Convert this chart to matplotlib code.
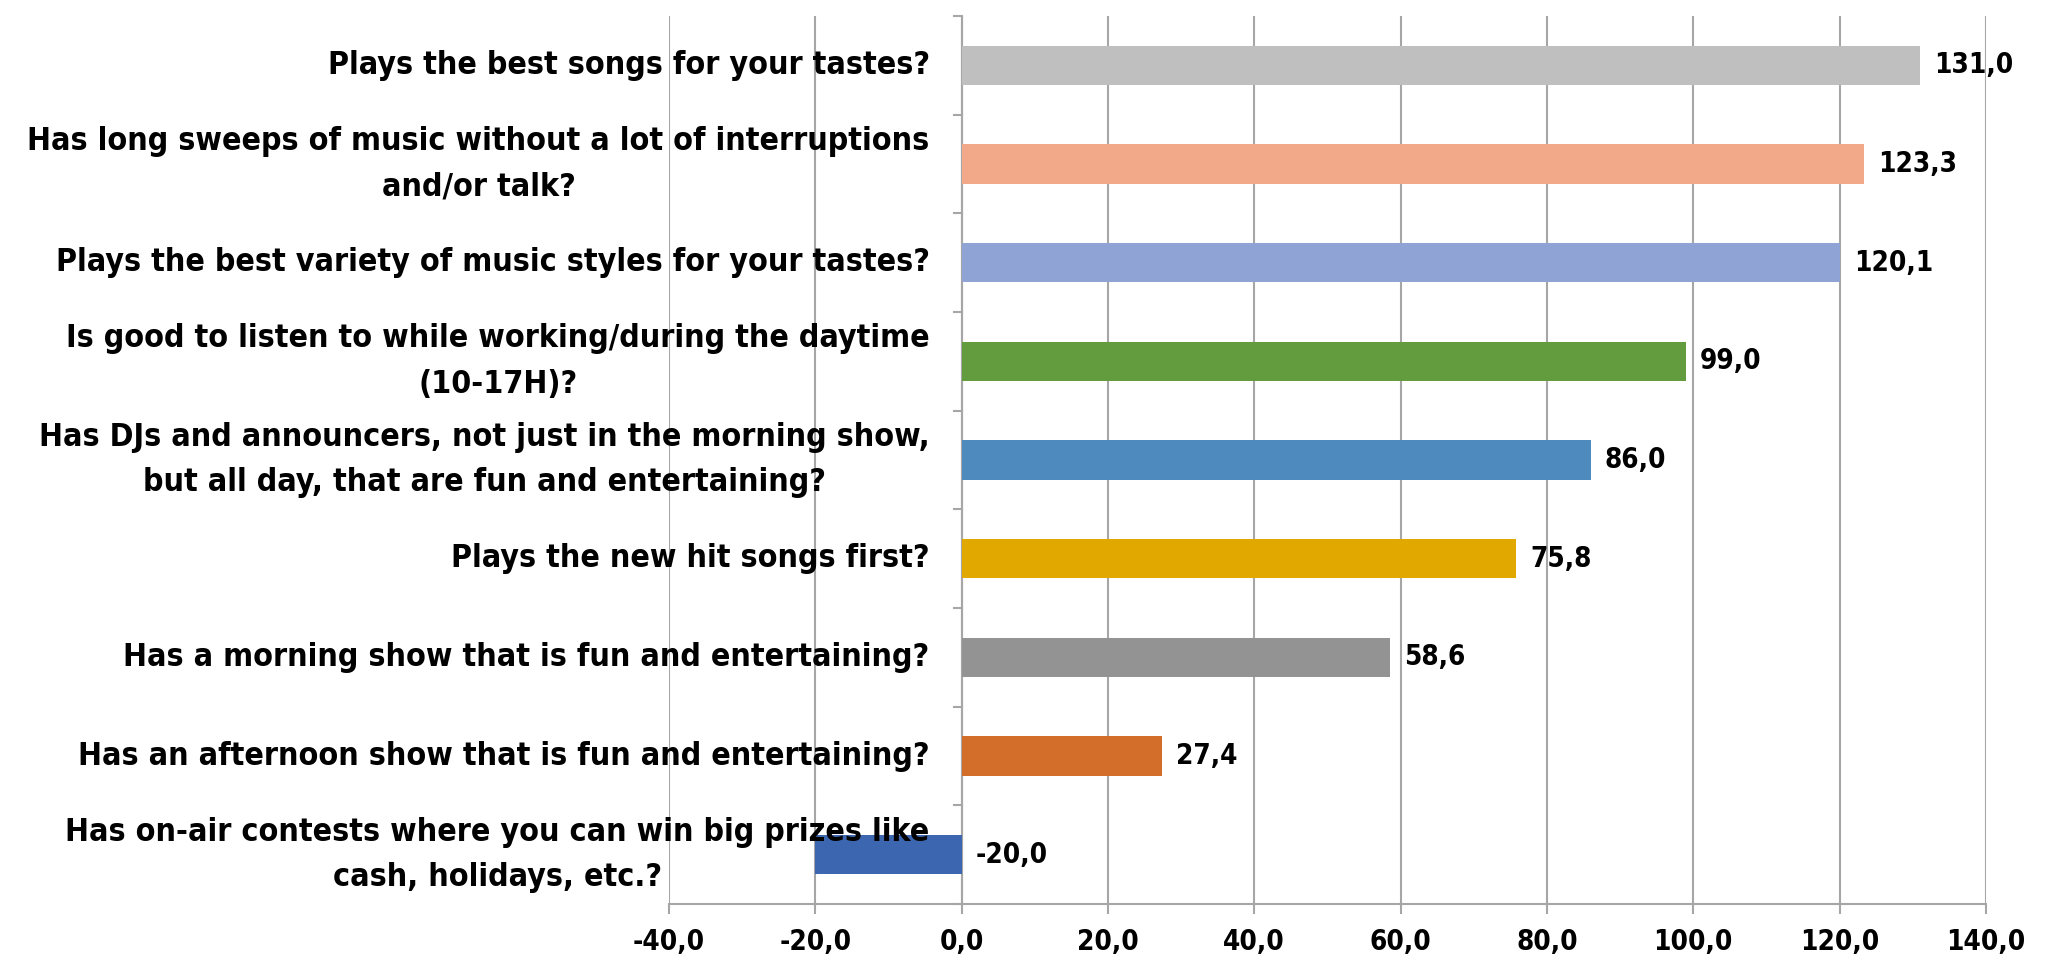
import matplotlib
matplotlib.use("Agg")
import matplotlib.pyplot as plt
from matplotlib import font_manager as fm

categories = [
    "Has on-air contests where you can win big prizes like\ncash, holidays, etc.?",
    "Has an afternoon show that is fun and entertaining?",
    "Has a morning show that is fun and entertaining?",
    "Plays the new hit songs first?",
    "Has DJs and announcers, not just in the morning show,\nbut all day, that are fun and entertaining?",
    "Is good to listen to while working/during the daytime\n(10-17H)?",
    "Plays the best variety of music styles for your tastes?",
    "Has long sweeps of music without a lot of interruptions\nand/or talk?",
    "Plays the best songs for your tastes?",
]
values = [-20.0, 27.4, 58.6, 75.8, 86.0, 99.0, 120.1, 123.3, 131.0]
bar_colors = ["#3D66B0", "#D36E2A", "#939393", "#E1A800", "#4F8ABE",
              "#629C3F", "#8FA4D4", "#F1A98A", "#BFBFBF"]
x_ticks = [-40, -20, 0, 20, 40, 60, 80, 100, 120, 140]


def pick_font():
    # prefer a narrow bold face; fall back to a regular bold sans
    cands = []
    for f in fm.fontManager.ttflist:
        n = (f.name + " " + f.fname).lower()
        if ("narrow" in n or "condensed" in n) and f.weight in ("bold", 700, "heavy") or \
           (("narrow" in n or "condensed" in n) and "bold" in f.fname.lower()):
            cands.append(f)
    cands.sort(key=lambda f: ("liberation" not in f.fname.lower(), f.fname))
    if cands:
        return fm.FontProperties(fname=cands[0].fname), True
    return fm.FontProperties(family="DejaVu Sans", weight="bold"), False


fp, narrow = pick_font()
label_size = 23 if narrow else 17
value_size = 20 if narrow else 15

fig = plt.figure(figsize=(20.49, 9.64), dpi=100)
ax = fig.add_axes([0.3265, 0.0622, 0.9692 - 0.3265, 0.9834 - 0.0622])

y = list(range(len(values)))
ax.barh(y, values, height=0.4, color=bar_colors, zorder=3)

ax.set_xlim(-40, 140)
ax.set_ylim(-0.5, len(values) - 0.5)
ax.set_xticks(x_ticks)
ax.set_xticklabels([f"{t:.1f}".replace(".", ",") for t in x_ticks])
for lbl in ax.get_xticklabels():
    lbl.set_fontproperties(fp)
    lbl.set_fontsize(value_size)
ax.tick_params(axis="x", length=7, width=1.5, color="#A6A6A6", pad=10)

ax.grid(axis="x", color="#A6A6A6", linewidth=1.5, zorder=0)
ax.set_yticks([])
for side in ("top", "right", "left"):
    ax.spines[side].set_visible(False)
ax.spines["bottom"].set_color("#A6A6A6")
ax.spines["bottom"].set_linewidth(1.5)

# category axis drawn at x = 0 with boundary ticks
ax.axvline(0, color="#A6A6A6", linewidth=1.5, zorder=2)
for b in range(len(values) + 1):
    ax.plot([-1.0, 0], [b - 0.5, b - 0.5], color="#A6A6A6", lw=1.5,
            zorder=2, clip_on=False)

# category labels to the left of the zero line
for yi, cat in zip(y, categories):
    ax.annotate(cat, xy=(0, yi), xycoords="data", xytext=(-32, 0),
                textcoords="offset pixels", ha="right", va="center",
                multialignment="center", fontproperties=fp,
                fontsize=label_size, color="black", linespacing=1.6,
                zorder=4)

# value labels
for yi, v in zip(y, values):
    ax.annotate(f"{v:.1f}".replace(".", ","), xy=(max(v, 0), yi),
                xytext=(14, 0), textcoords="offset pixels", ha="left",
                va="center", fontproperties=fp, fontsize=value_size,
                color="black", zorder=4)

fig.savefig("out.png", dpi=100)
